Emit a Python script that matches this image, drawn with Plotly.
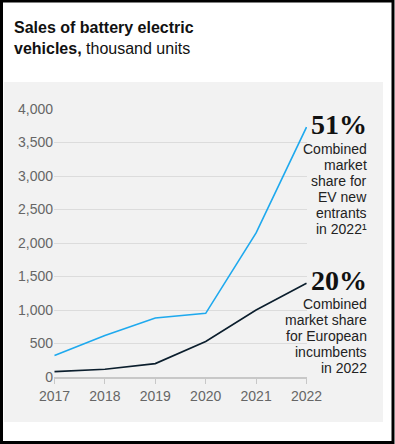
import plotly.graph_objects as go

years = [2017, 2018, 2019, 2020, 2021, 2022]
new_entrants = [320, 620, 880, 950, 2150, 3730]
european_incumbents = [80, 115, 200, 530, 1000, 1400]
y_ticks = [0, 500, 1000, 1500, 2000, 2500, 3000, 3500, 4000]

W, H = 395, 444
L, R, T, B = 54, 307, 109, 377  # plot area pixel box


def px(xp):
    return (xp - L) / (R - L)


def py(yp):
    return (B - yp) / (B - T)


SANS = "Liberation Sans, Arial, sans-serif"
SERIF = "Liberation Serif, Times New Roman, serif"

fig = go.Figure()
fig.add_trace(go.Scatter(x=years, y=new_entrants, mode="lines",
                         line=dict(color="#1ea9ee", width=1.6), showlegend=False,
                         hoverinfo="skip"))
fig.add_trace(go.Scatter(x=years, y=european_incumbents, mode="lines",
                         line=dict(color="#0b1e2d", width=1.6), showlegend=False,
                         hoverinfo="skip"))

shapes = [
    # grey panel
    dict(type="rect", xref="paper", yref="paper", x0=px(4), x1=px(383), y0=py(422), y1=py(82),
         fillcolor="#f2f2f2", line=dict(width=0), layer="below"),
    # outer border
    dict(type="rect", xref="paper", yref="paper", x0=px(1.5), x1=px(393), y0=py(442.5), y1=py(1),
         fillcolor="rgba(0,0,0,0)", line=dict(color="#000", width=3), layer="above"),
]

annotations = [
    dict(text="<b>Sales of battery electric</b><br><b>vehicles,</b> thousand units",
         xref="paper", yref="paper", x=px(12), y=py(17), xanchor="left", yanchor="top",
         align="left", showarrow=False, font=dict(family=SANS, size=16, color="#111")),
]

blocks = [
    ("51%", 125, [("Combined", 149), ("market", 165), ("share for", 181), ("EV new", 197),
                  ("entrants", 213), ("in 2022¹", 229)]),
    ("20%", 280, [("Combined", 304), ("market share", 320), ("for European", 336),
                  ("incumbents", 352), ("in 2022", 368)]),
]
for big, big_y, lines in blocks:
    annotations.append(dict(text="<b>" + big + "</b>", xref="paper", yref="paper", x=px(369),
                            y=py(big_y), xanchor="right", yanchor="middle", showarrow=False,
                            font=dict(family=SERIF, size=28, color="#111")))
    for txt, ly in lines:
        annotations.append(dict(text=txt, xref="paper", yref="paper", x=px(369), y=py(ly),
                                xanchor="right", yanchor="middle", showarrow=False,
                                font=dict(family=SANS, size=14, color="#222")))

fig.update_layout(
    width=W, height=H,
    margin=dict(l=L, r=W - R, t=T, b=H - B, pad=0),
    paper_bgcolor="white", plot_bgcolor="rgba(0,0,0,0)",
    shapes=shapes, annotations=annotations,
    font=dict(family=SANS),
    xaxis=dict(range=[2016.99, 2022.01], tickvals=years, ticktext=[str(y) for y in years],
               showgrid=False, zeroline=False, showline=True, linecolor="#c8c8c8", linewidth=1.5,
               ticks="outside", ticklen=5, tickcolor="#c8c8c8", tickwidth=1,
               tickfont=dict(family=SANS, size=14, color="#666")),
    yaxis=dict(range=[0, 4000], tickvals=y_ticks, tickformat=",",
               showgrid=True, gridcolor="#dcdcdc", gridwidth=1, zeroline=False,
               ticks="", showline=False,
               tickfont=dict(family=SANS, size=14, color="#666")),
)

fig.write_html("out.html", config={"displayModeBar": False},
               post_script="document.body.style.margin='0';document.body.style.overflow='hidden';")
